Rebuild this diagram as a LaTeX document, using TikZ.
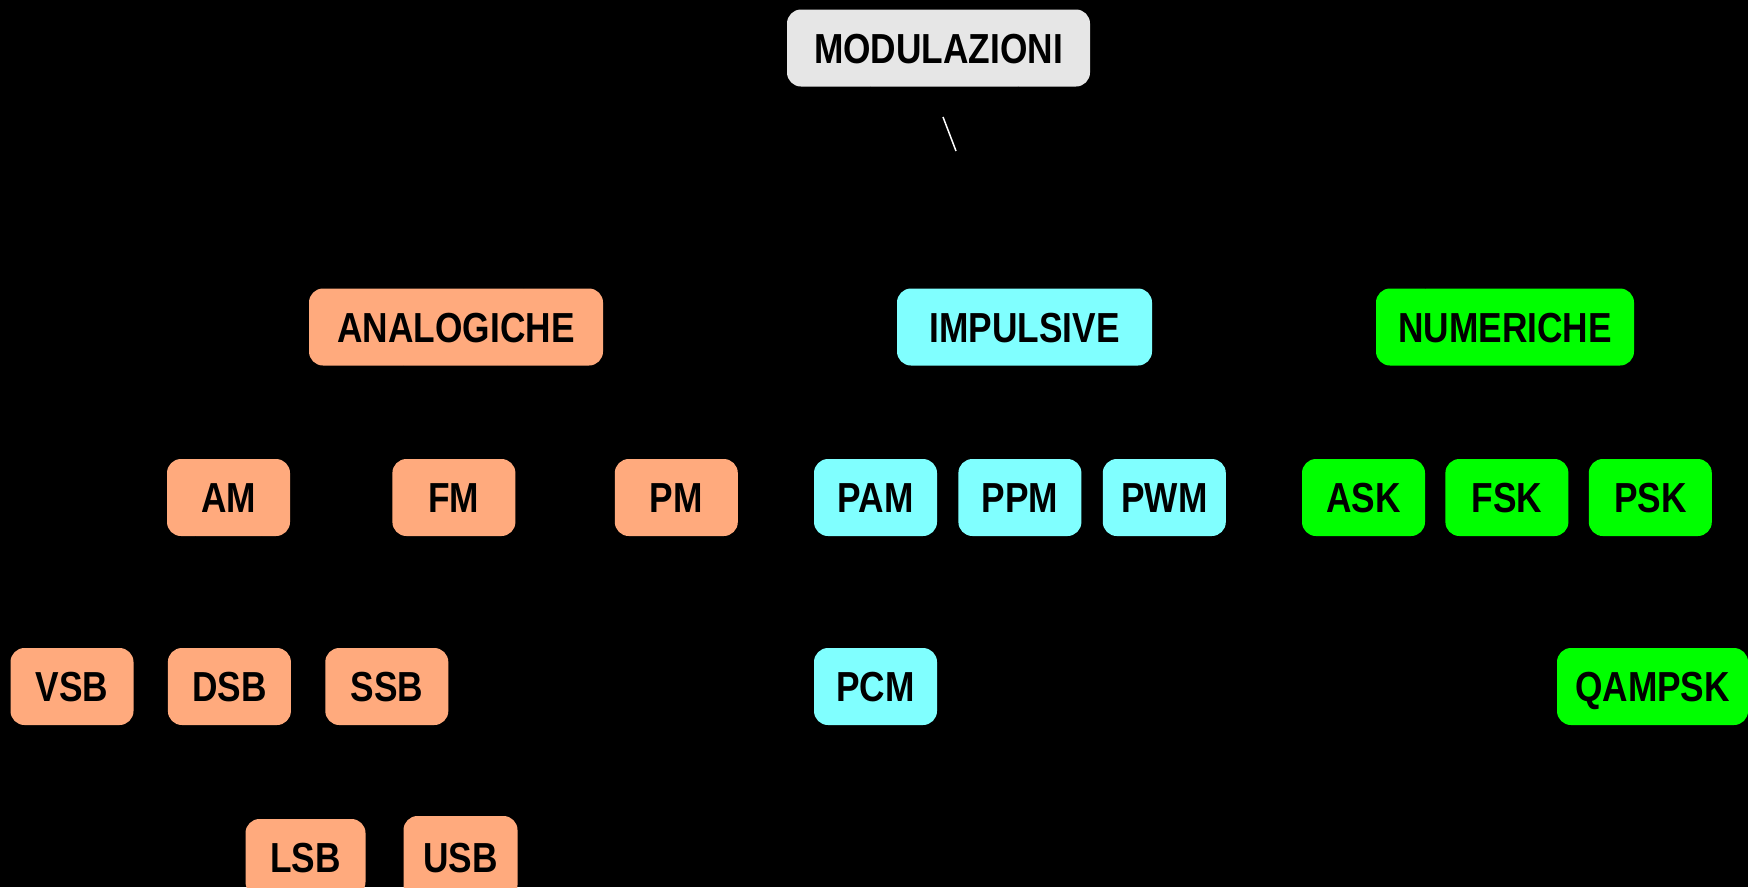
\documentclass[tikz,border=0pt]{standalone}
\usepackage{fontspec}
\newfontfamily\boxfont{Liberation Sans}[FakeStretch=0.84]
\usetikzlibrary{positioning}
\definecolor{rootgray}{RGB}{230,230,230}
\definecolor{anapeach}{RGB}{255,170,125}
\definecolor{impcyan}{RGB}{128,255,255}
\definecolor{numgreen}{RGB}{0,255,0}

\begin{document}
\begin{tikzpicture}[x=1pt, y=-1pt, node distance=21pt,
  every node/.style={font=\boxfont\bfseries\fontsize{42}{50}\selectfont},
  box/.style={rounded corners=14pt, align=center, minimum height=77pt, minimum width=123pt, inner xsep=4pt, text height=30pt, text depth=0pt},
  rootbox/.style={box, fill=rootgray, minimum width=303pt},
  anabox/.style={box, fill=anapeach}, impbox/.style={box, fill=impcyan}, numbox/.style={box, fill=numgreen},
  link/.style={draw=black, line width=1pt, shorten >=1pt, shorten <=1pt}]
\fill[black] (0,0) rectangle (1748,887);
\useasboundingbox (0,0) rectangle (1748,887);
\node[rootbox] (mod) at (938.5,48) {MODULAZIONI};
\node[anabox, minimum width=294pt] (anal) at (456,327) {ANALOGICHE};
\node[impbox, minimum width=255pt] (imp) at (1024.5,327) {IMPULSIVE};
\node[numbox, minimum width=258pt] (num) at (1505,327) {NUMERICHE};
% terzo livello
\node[anabox] (am) at (228.5,497.5) {AM};
\node[anabox, right=102pt of am] (fm) {FM};
\node[anabox, right=99pt of fm] (pm) {PM};
\node[impbox] (pam) at (875.5,497.5) {PAM};
\node[impbox, right=of pam] (ppm) {PPM};
\node[impbox, right=of ppm] (pwm) {PWM};
\node[numbox] (ask) at (1363.5,497.5) {ASK};
\node[numbox, right=20pt of ask] (fsk) {FSK};
\node[numbox, right=20pt of fsk] (psk) {PSK};
% quarto livello
\node[anabox] (vsb) at (72,686.5) {VSB};
\node[anabox, right=34pt of vsb] (dsb) {DSB};
\node[anabox, right=34pt of dsb] (ssb) {SSB};
\node[impbox] (pcm) at (875.5,686.5) {PCM};
\node[numbox, minimum width=191pt] (qam) at (1652.5,686.5) {QAMPSK};
% quinto livello
\node[anabox, minimum width=120pt] (lsb) at (305.5,857.5) {LSB};
\node[anabox, minimum width=114pt, minimum height=83pt] (usb) at (460.5,857.5) {USB};
% collegamenti (neri su nero)
\foreach \a/\b in {mod/anal, mod/imp, mod/num, anal/am, anal/fm, anal/pm, imp/pam, imp/ppm, imp/pwm,
  num/ask, num/fsk, num/psk, am/vsb, am/dsb, am/ssb, pam/pcm, psk/qam, ssb/lsb, ssb/usb}
  \draw[link] (\a) -- (\b);
\coordinate (glinta) at (943,117);
\coordinate (glintb) at (956,151);
\draw[white, line width=1.5pt] (glinta) -- (glintb);
\end{tikzpicture}
\end{document}
